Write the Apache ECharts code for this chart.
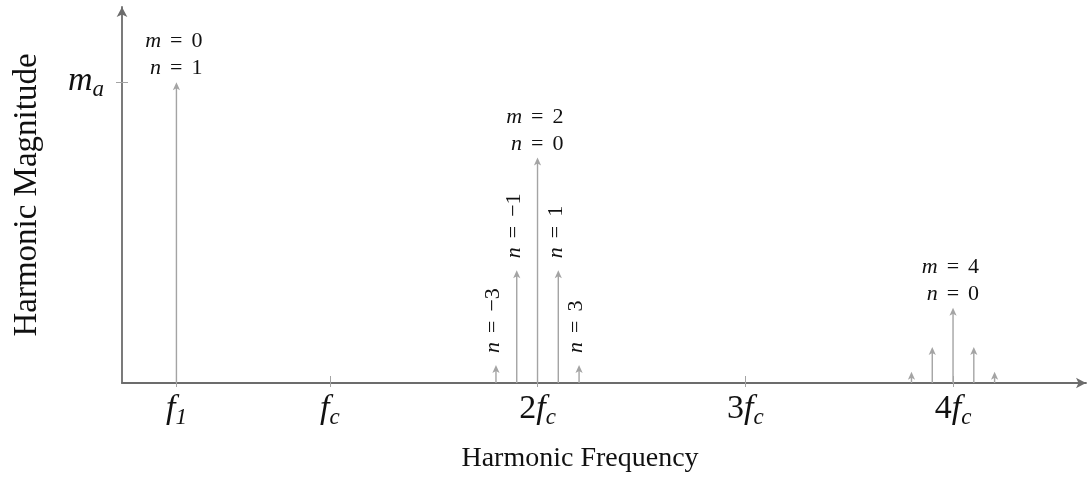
<!DOCTYPE html>
<html>
<head>
<meta charset="utf-8">
<title>Harmonic spectrum</title>
<script src="https://cdn.jsdelivr.net/npm/echarts@6/dist/echarts.min.js"></script>
<style>
  html, body { margin: 0; padding: 0; background: #ffffff; }
  #chart { width: 1088px; height: 484px; }
</style>
</head>
<body>
<div id="chart"></div>
<script>
// Frequencies in units of the carrier frequency fc
const freq = [0.262, 1.8, 1.9, 2.0, 2.1, 2.2, 3.8, 3.9, 4.0, 4.1, 4.2];
// Magnitudes relative to the fundamental amplitude m_a
const magnitude = [1, 0.06, 0.375, 0.75, 0.375, 0.06, 0.037, 0.12, 0.25, 0.12, 0.037];
// Carrier multiple m and sideband index n of each harmonic
const carrierIndex = [0, 2, 2, 2, 2, 2, 4, 4, 4, 4, 4];
const sidebandIndex = [1, -3, -1, 0, 1, 3, -3, -1, 0, 1, 3];
// Carrier groups whose sidebands carry their own n labels
const annotatedGroups = [2];

// Axis ticks
const xTickValues = [0.262, 1, 2, 3, 4];
const xTickLabels = ['{f|f}{s|1}', '{f|f}{s|c}', '{r|2}{f|f}{s|c}', '{r|3}{f|f}{s|c}', '{r|4}{f|f}{s|c}'];
const yTickValues = [1];
const yTickLabels = ['{f|m}{s|a}'];

const xTitle = 'Harmonic Frequency';
const yTitle = 'Harmonic Magnitude';

const SERIF = '"Liberation Serif", "DejaVu Serif", serif';
const STEM = '#a4a4a4';
const AXIS = '#6c6c6c';
const INK = '#111111';

const tickRich = {
  f: { fontFamily: SERIF, fontStyle: 'italic', fontSize: 34, color: INK, lineHeight: 36, verticalAlign: 'top' },
  r: { fontFamily: SERIF, fontSize: 34, color: INK, lineHeight: 36, verticalAlign: 'top' },
  s: { fontFamily: SERIF, fontStyle: 'italic', fontSize: 23, color: INK, lineHeight: 23, padding: [14, 0, 0, 0], verticalAlign: 'top' }
};

const labelRich = {
  i: { fontFamily: SERIF, fontStyle: 'italic', fontSize: 22, color: INK, lineHeight: 27 },
  r: { fontFamily: SERIF, fontSize: 22, color: INK, lineHeight: 27 },
  e: { fontFamily: SERIF, fontSize: 22, color: INK, lineHeight: 27, padding: [0, 9, 0, 9] }
};

function fmtN(n) {
  return n < 0 ? '\u2212' + Math.abs(n) : String(n);
}

function eqText(name, value) {
  return '{i|' + name + '}{e|=}{r|' + fmtN(value) + '}';
}

const data = freq.map((f, i) => [f, magnitude[i], carrierIndex[i], sidebandIndex[i]]);

const chart = echarts.init(document.getElementById('chart'), null, { renderer: 'canvas' });

chart.setOption({
  animation: false,
  backgroundColor: '#ffffff',
  textStyle: { fontFamily: SERIF, color: INK },
  grid: { left: 122, right: 2, top: 7, bottom: 101, containLabel: false, outerBoundsMode: 'none' },
  xAxis: [{
    type: 'value', min: 0, max: 4.64,
    name: xTitle, nameLocation: 'middle', nameGap: 62,
    nameTextStyle: { fontFamily: SERIF, fontSize: 28, color: INK, padding: [0, 48, 0, 0] },
    axisLine: { show: true, symbol: ['none', 'arrow'], symbolSize: [8, 10], lineStyle: { color: AXIS, width: 1.8 } },
    axisTick: { show: true, inside: true, length: 7, customValues: xTickValues, lineStyle: { color: STEM, width: 1 } },
    axisLabel: {
      show: true, margin: 9, customValues: xTickValues,
      fontFamily: SERIF, color: INK,
      formatter: (v) => xTickLabels[xTickValues.indexOf(v)] || '',
      rich: tickRich
    },
    splitLine: { show: false }
  }, {
    type: 'value', min: 0, max: 4.64, position: 'bottom',
    axisLine: { show: false },
    axisTick: { show: true, inside: false, length: 4, customValues: xTickValues, lineStyle: { color: STEM, width: 1 } },
    axisLabel: { show: false },
    splitLine: { show: false }
  }],
  yAxis: [{
    type: 'value', min: 0, max: 1.25,
    name: yTitle, nameLocation: 'middle', nameGap: 78, nameRotate: 90,
    nameTextStyle: { fontFamily: SERIF, fontSize: 33, color: INK },
    axisLine: { show: true, symbol: ['none', 'arrow'], symbolSize: [8, 10], lineStyle: { color: AXIS, width: 1.8 } },
    axisTick: { show: true, inside: true, length: 6, customValues: yTickValues, lineStyle: { color: STEM, width: 1 } },
    axisLabel: {
      show: true, margin: 18, customValues: yTickValues,
      fontFamily: SERIF, color: INK,
      formatter: (v) => yTickLabels[yTickValues.indexOf(v)] || '',
      rich: tickRich
    },
    splitLine: { show: false }
  }, {
    type: 'value', min: 0, max: 1.25, position: 'left',
    axisLine: { show: false },
    axisTick: { show: true, inside: false, length: 6, customValues: yTickValues, lineStyle: { color: STEM, width: 1 } },
    axisLabel: { show: false },
    splitLine: { show: false }
  }],
  series: [{
    type: 'custom',
    xAxisIndex: 0,
    yAxisIndex: 0,
    data: data,
    clip: false,
    renderItem: function (params, api) {
      const x = api.value(0), y = api.value(1);
      const m = api.value(2), n = api.value(3);
      const base = api.coord([x, 0]);
      const tip = api.coord([x, y]);
      const children = [
        { type: 'line', shape: { x1: base[0], y1: base[1], x2: tip[0], y2: tip[1] + 3 },
          style: { stroke: STEM, lineWidth: 1.4 } },
        { type: 'polygon',
          shape: { points: [[tip[0], tip[1]], [tip[0] - 3.6, tip[1] + 8], [tip[0], tip[1] + 6], [tip[0] + 3.6, tip[1] + 8]] },
          style: { fill: STEM } }
      ];
      if (n === 0 || m === 0) {
        // Stacked m / n label above the main harmonic
        children.push({
          type: 'text', x: tip[0] + 26, y: tip[1],
          style: {
            text: eqText('m', m) + '\n' + eqText('n', n),
            fontFamily: SERIF, fontSize: 22, fill: INK,
            rich: labelRich, align: 'right', verticalAlign: 'bottom'
          }
        });
      } else if (annotatedGroups.indexOf(m) >= 0) {
        // Sideband label reading upwards above the sideband arrow
        children.push({
          type: 'text', x: tip[0] + 11, y: tip[1] - 12, rotation: Math.PI / 2,
          style: {
            text: eqText('n', n),
            fontFamily: SERIF, fontSize: 22, fill: INK,
            rich: labelRich, align: 'left', verticalAlign: 'bottom'
          }
        });
      }
      return { type: 'group', children: children };
    }
  }]
});
</script>
</body>
</html>
